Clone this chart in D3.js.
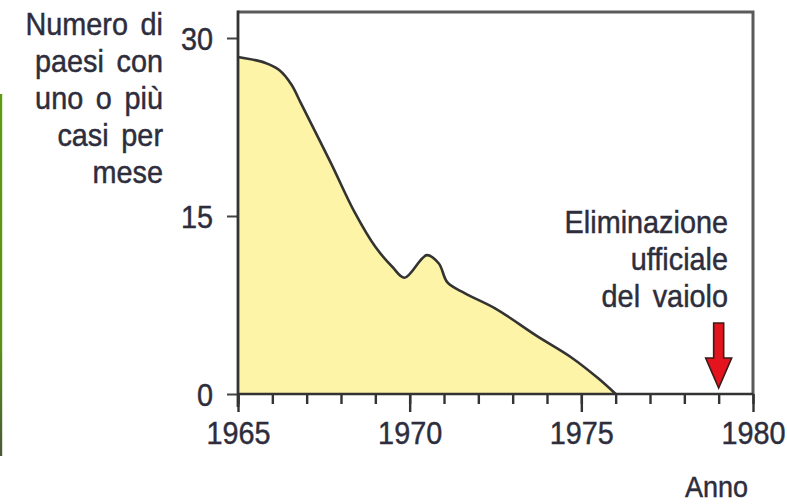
<!DOCTYPE html>
<html><head><meta charset="utf-8">
<script src="https://cdn.jsdelivr.net/npm/d3@7"></script>
<style>
html,body{margin:0;padding:0;background:#fff;}
text{font-family:"Liberation Sans",Arial,sans-serif;fill:#2d2d3c;stroke:#2d2d3c;stroke-width:0.45px;}
</style></head>
<body>
<svg id="c" width="787" height="504"></svg>
<script>
const years  = [1965.0,1965.8,1966.2,1966.55,1966.85,1967.7,1968.4,1969.0,1969.5,1969.85,1970.5,1970.85,1971.1,1971.6,1972.5,1973.7,1974.7,1975.5,1976.0];
const counts = [28.4,27.9,27.3,26.1,24.4,19.5,15.3,12.4,10.7,9.8,11.7,11.0,9.4,8.5,7.2,4.9,3.1,1.3,0];
const yTicks = [0,15,30];
const xMajor = [1965,1970,1975,1980];
const xMinor = d3.range(1965,1981,1);
const titleLines = ["Numero di","paesi con","uno o più","casi per","mese"];
const noteLines = ["Eliminazione","ufficiale","del vaiolo"];
const eliminationYear = 1979;
const xLabel = "Anno";

const FS = 31, SX = 0.93;
const svg = d3.select("#c");
const x = d3.scaleLinear().domain([1965,1980]).range([238,753]);
const y = d3.scaleLinear().domain([0,30]).range([394,38]);
const frameTop = 12;

function ctext(parent, tx, ty, str, anchor, fs){
  parent.append("g").attr("transform",`translate(${tx},${ty}) scale(${SX},1)`)
    .append("text").attr("text-anchor",anchor).attr("font-size",fs||FS).attr("word-spacing",5).text(str);
}

// green edge line at far left
const g0 = svg.append("defs").append("linearGradient").attr("id","gl").attr("x1",0).attr("x2",0).attr("y1",0).attr("y2",1);
g0.append("stop").attr("offset","0").attr("stop-color","#5d9c12");
g0.append("stop").attr("offset","0.7").attr("stop-color","#5a9216");
g0.append("stop").attr("offset","1").attr("stop-color","#4a5838");
svg.append("rect").attr("x",0).attr("y",94).attr("width",2.2).attr("height",362).attr("fill","url(#gl)");

const data = years.map((d,i)=>({yr:d,v:counts[i]}));
const curve = d3.curveCatmullRom.alpha(0.5);

// area
svg.append("path").datum(data)
  .attr("d", d3.area().x(d=>x(d.yr)).y0(y(0)).y1(d=>y(d.v)).curve(curve))
  .attr("fill","#fdf4a8");
svg.append("path").datum(data)
  .attr("d", d3.line().x(d=>x(d.yr)).y(d=>y(d.v)).curve(curve))
  .attr("fill","none").attr("stroke","#333").attr("stroke-width",2.6);

// frame top & right
svg.append("path")
  .attr("d",`M${x(1965)},${frameTop}H${x(1980)}V${y(0)}`)
  .attr("fill","none").attr("stroke","#5a5a5a").attr("stroke-width",3);

// x axis
const xAxisMinor = d3.axisBottom(x).tickValues(xMinor).tickSize(10).tickFormat("");
const gxm = svg.append("g").attr("transform",`translate(0,${y(0)})`).call(xAxisMinor);
const xAxisMajor = d3.axisBottom(x).tickValues(xMajor).tickSize(18).tickFormat(d3.format("d"));
const gx = svg.append("g").attr("transform",`translate(0,${y(0)})`).call(xAxisMajor);
[gxm,gx].forEach(g=>{
  g.select(".domain").remove();
  g.selectAll("line").attr("stroke","#333").attr("stroke-width",2.4);
});
gx.selectAll("text").attr("font-size",FS).attr("y",0).attr("dy",0)
  .attr("transform",`translate(0,50) scale(${SX},1)`);
svg.append("line").attr("x1",x(1965)).attr("x2",x(1980)).attr("y1",y(0)).attr("y2",y(0)).attr("stroke","#333").attr("stroke-width",2.6);

// y axis
const yAxis = d3.axisLeft(y).tickValues(yTicks).tickSize(11).tickFormat(d3.format("d"));
const gy = svg.append("g").attr("transform",`translate(${x(1965)},0)`).call(yAxis);
gy.select(".domain").remove();
gy.selectAll("line").attr("stroke","#444").attr("stroke-width",2);
gy.selectAll("text").attr("font-size",FS).attr("x",0).attr("dy",0)
  .attr("transform",`translate(-25,11) scale(${SX},1)`);
svg.append("line").attr("x1",x(1965)).attr("x2",x(1965)).attr("y1",frameTop-1.5).attr("y2",y(0)+13).attr("stroke","#333").attr("stroke-width",2.8);

// y title
const gt = svg.append("g");
titleLines.forEach((d,i)=>ctext(gt,163,35+i*37,d,"end"));

// annotation
const gn = svg.append("g");
noteLines.forEach((d,i)=>ctext(gn,728,233+i*37,d,"end"));

// red arrow
const ax = x(eliminationYear);
svg.append("path")
  .attr("d",`M${ax-5},323V358H${ax-13}L${ax},388L${ax+13},358H${ax+5}V323Z`)
  .attr("fill","#e3141e").attr("stroke","#3a1a1a").attr("stroke-width",1.6).attr("stroke-linejoin","miter");

// x label
ctext(svg,748,497,xLabel,"end",29);
</script>
</body></html>
